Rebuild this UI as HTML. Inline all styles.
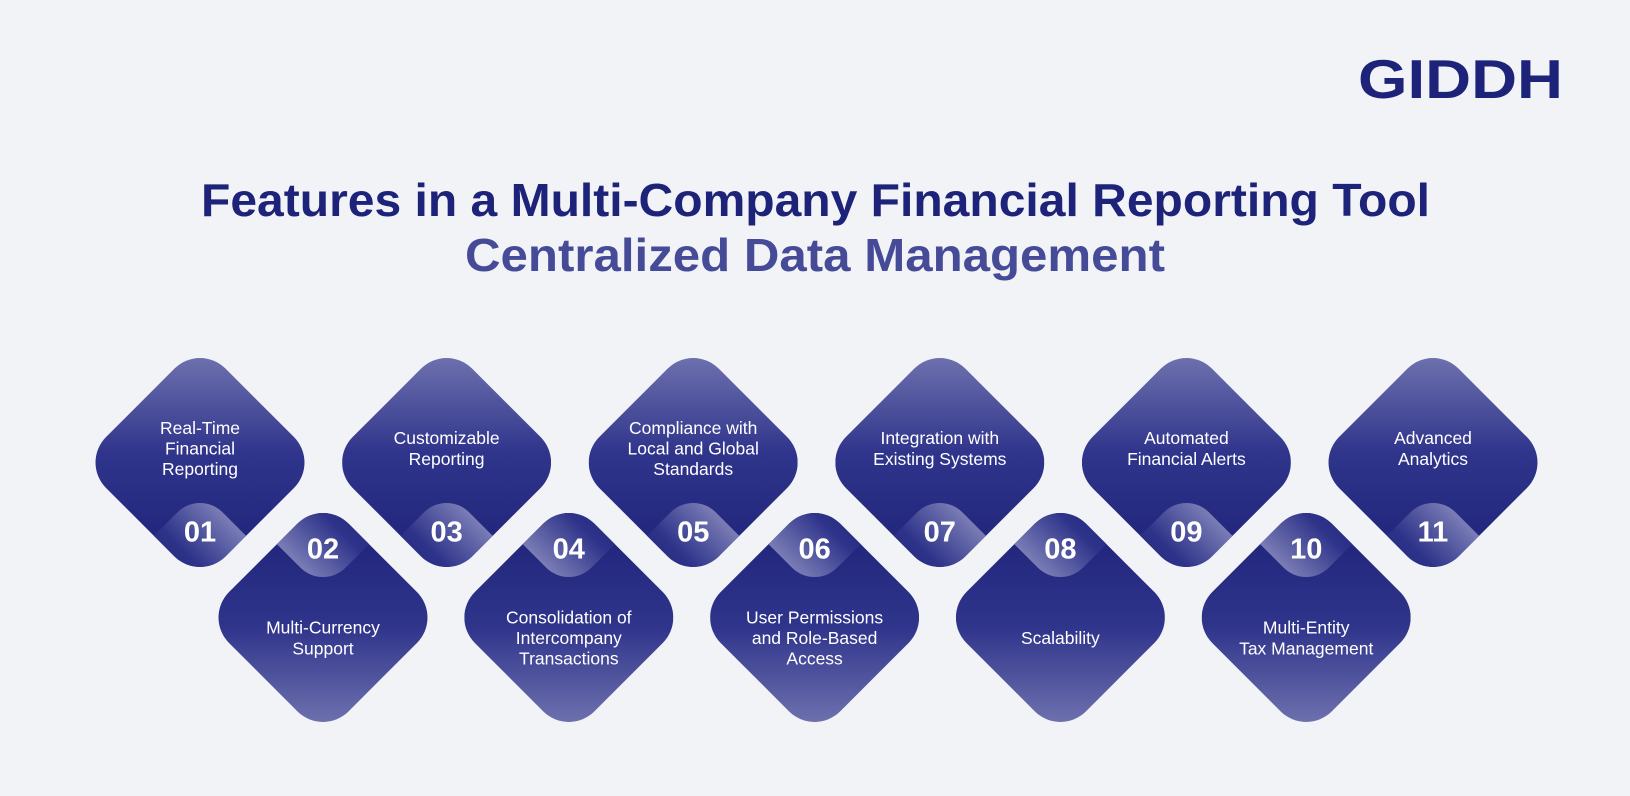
<!DOCTYPE html>
<html><head><meta charset="utf-8"><style>
html,body{margin:0;padding:0;background:#f2f3f7;}
svg{display:block;}
text{font-family:"Liberation Sans",sans-serif;}
</style></head><body>
<svg id="s" width="1630" height="796" viewBox="0 0 1630 796" xmlns="http://www.w3.org/2000/svg">
<defs>
<linearGradient id="gDown" x1="0" y1="0" x2="0" y2="1">
<stop offset="0" stop-color="#6d70ad"/><stop offset="0.45" stop-color="#30358c"/><stop offset="1" stop-color="#1d2278"/>
</linearGradient>
<linearGradient id="gUp" x1="0" y1="1" x2="0" y2="0">
<stop offset="0" stop-color="#6d70ad"/><stop offset="0.45" stop-color="#30358c"/><stop offset="1" stop-color="#1d2278"/>
</linearGradient>
<linearGradient id="tDown" x1="0" y1="0" x2="0" y2="1">
<stop offset="0" stop-color="#7a7db5"/><stop offset="0.5" stop-color="#2e338a"/><stop offset="1" stop-color="#1d2278"/>
</linearGradient>
<linearGradient id="tUp" x1="0" y1="1" x2="0" y2="0">
<stop offset="0" stop-color="#7a7db5"/><stop offset="0.5" stop-color="#2e338a"/><stop offset="1" stop-color="#1d2278"/>
</linearGradient>
</defs>
<rect width="1630" height="796" fill="#f2f3f7"/>
<text x="1358" y="98" font-size="55" font-weight="bold" fill="#1e237a" textLength="205" lengthAdjust="spacingAndGlyphs">GIDDH</text>
<text x="201" y="216" font-size="46" font-weight="bold" fill="#1e237a" textLength="1229" lengthAdjust="spacingAndGlyphs">Features in a Multi-Company Financial Reporting Tool</text>
<text x="465" y="271" font-size="46" font-weight="bold" fill="#464b98" textLength="700" lengthAdjust="spacingAndGlyphs">Centralized Data Management</text>
<g id="items"></g>
</svg>
<script>
const labels = [
 ["Real-Time","Financial","Reporting"],
 ["Multi-Currency","Support"],
 ["Customizable","Reporting"],
 ["Consolidation of","Intercompany","Transactions"],
 ["Compliance with","Local and Global","Standards"],
 ["User Permissions","and Role-Based","Access"],
 ["Integration with","Existing Systems"],
 ["Scalability"],
 ["Automated","Financial Alerts"],
 ["Multi-Entity","Tax Management"],
 ["Advanced","Analytics"]
];
const NS="http://www.w3.org/2000/svg";
const g=document.getElementById('items');
const H=104.5, r=36, HS=H+r*(Math.SQRT2-1), side=HS*Math.SQRT2;
function mk(tag,attrs){const e=document.createElementNS(NS,tag);for(const k in attrs)e.setAttribute(k,attrs[k]);return e;}
labels.forEach((lines,i)=>{
  const top = i%2===0;
  const cx = top ? 200 + (i/2)*246.6 : 323 + ((i-1)/2)*245.8;
  const cy = top ? 462.5 : 617.5;
  const grp=mk('g',{});
  
  
  const cid='clip'+i;
  const cp=mk('clipPath',{id:cid});
  cp.appendChild(mk('rect',{x:cx-side/2,y:cy-side/2,width:side,height:side,rx:r,transform:`rotate(45 ${cx} ${cy})`}));
  grp.appendChild(cp);
  const body=mk('rect',{x:cx-H,y:cy-H,width:2*H,height:2*H,fill:top?'url(#gDown)':'url(#gUp)','clip-path':`url(#${cid})`});
  
  
  grp.appendChild(body);
  const tr=32, th=64+tr*(Math.SQRT2-1), ts=th*Math.SQRT2, tcy= top? cy+H : cy-H;
  const tg=mk('g',{'clip-path':`url(#${cid})`});
  const tab=mk('rect',{x:cx-ts/2,y:tcy-ts/2,width:ts,height:ts,rx:tr,transform:`rotate(45 ${cx} ${tcy})`,fill:top?'url(#tDown)':'url(#tUp)'});
  
  
  tg.appendChild(tab);
  grp.appendChild(tg);
  const num=mk('text',{x:cx,y:top?cy+79:cy-59,'text-anchor':'middle','font-size':29,'font-weight':'bold',fill:'#ffffff'});
  num.textContent=String(i+1).padStart(2,'0');
  
  
  grp.appendChild(num);
  const lh=20.7;
  const mid = top ? 448.5 : 638;
  lines.forEach((ln,j)=>{
    const y = mid + (j-(lines.length-1)/2)*lh + 6;
    const t=mk('text',{x:cx,y:y,'text-anchor':'middle','font-size':17.5,fill:'#ffffff'});
    t.textContent=ln;
    
    
    grp.appendChild(t);
  });
  g.appendChild(grp);
});
</script>
</body></html>
